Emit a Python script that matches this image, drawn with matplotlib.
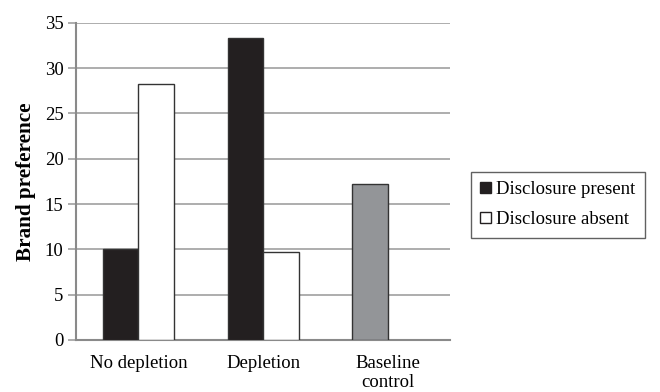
import numpy as np
import matplotlib
matplotlib.use("Agg")
from matplotlib import pyplot as plt
from matplotlib.patches import Patch

categories = ["No depletion", "Depletion", "Baseline\ncontrol"]
present = [10.0, 33.3]
absent = [28.2, 9.7]
baseline = [17.2]
yticks = [0, 5, 10, 15, 20, 25, 30, 35]

plt.rcParams['font.family'] = ['Liberation Serif', 'DejaVu Serif']

fig = plt.figure(figsize=(6.6, 3.92), dpi=100)
ax = fig.add_axes([0.1152, 0.1327, 0.567, 0.8093])

w = 0.285
x = np.arange(len(categories))
ax.bar(x[:2] - w/2, present, w, color='#231f20', edgecolor='#333333', linewidth=1, zorder=3)
ax.bar(x[:2] + w/2, absent, w, color='white', edgecolor='#333333', linewidth=1, zorder=3)
ax.bar(x[2:] - w/2, baseline, w, color='#939598', edgecolor='#333333', linewidth=1, zorder=3)

ax.set_xlim(-0.5, 2.5)
ax.set_ylim(0, 35)
ax.set_yticks(yticks)
ax.set_xticks(x)
ax.set_xticklabels(categories, fontsize=13.5, linespacing=1.1)
ax.tick_params(axis='y', labelsize=13.5, length=6, color='#a0a0a0', width=1.2, pad=3)
ax.tick_params(axis='x', length=0, pad=11)
ax.yaxis.grid(True, color='#a0a0a0', linewidth=1.2, zorder=0)
for s in ['top', 'right']:
    ax.spines[s].set_visible(False)
ax.spines['left'].set_color('#8a8a8a')
ax.spines['left'].set_linewidth(1.5)
ax.spines['bottom'].set_color('#8a8a8a')
ax.spines['bottom'].set_linewidth(1.5)
ax.set_ylabel("Brand preference", fontsize=15.2, fontweight='bold', labelpad=6)

handles = [Patch(facecolor='#231f20', edgecolor='#231f20', label='Disclosure present'),
           Patch(facecolor='white', edgecolor='#231f20', label='Disclosure absent')]
leg = fig.legend(handles=handles, loc='upper left', bbox_to_anchor=(0.7136, 0.562),
                 fontsize=13.5, frameon=True, fancybox=False, handlelength=0.55,
                 handleheight=0.55, handletextpad=0.3, labelspacing=0.7,
                 borderpad=0.5, borderaxespad=0)
leg.get_frame().set_edgecolor('#3a3a3a')
leg.get_frame().set_linewidth(1.0)

fig.savefig("out.png", dpi=100)
